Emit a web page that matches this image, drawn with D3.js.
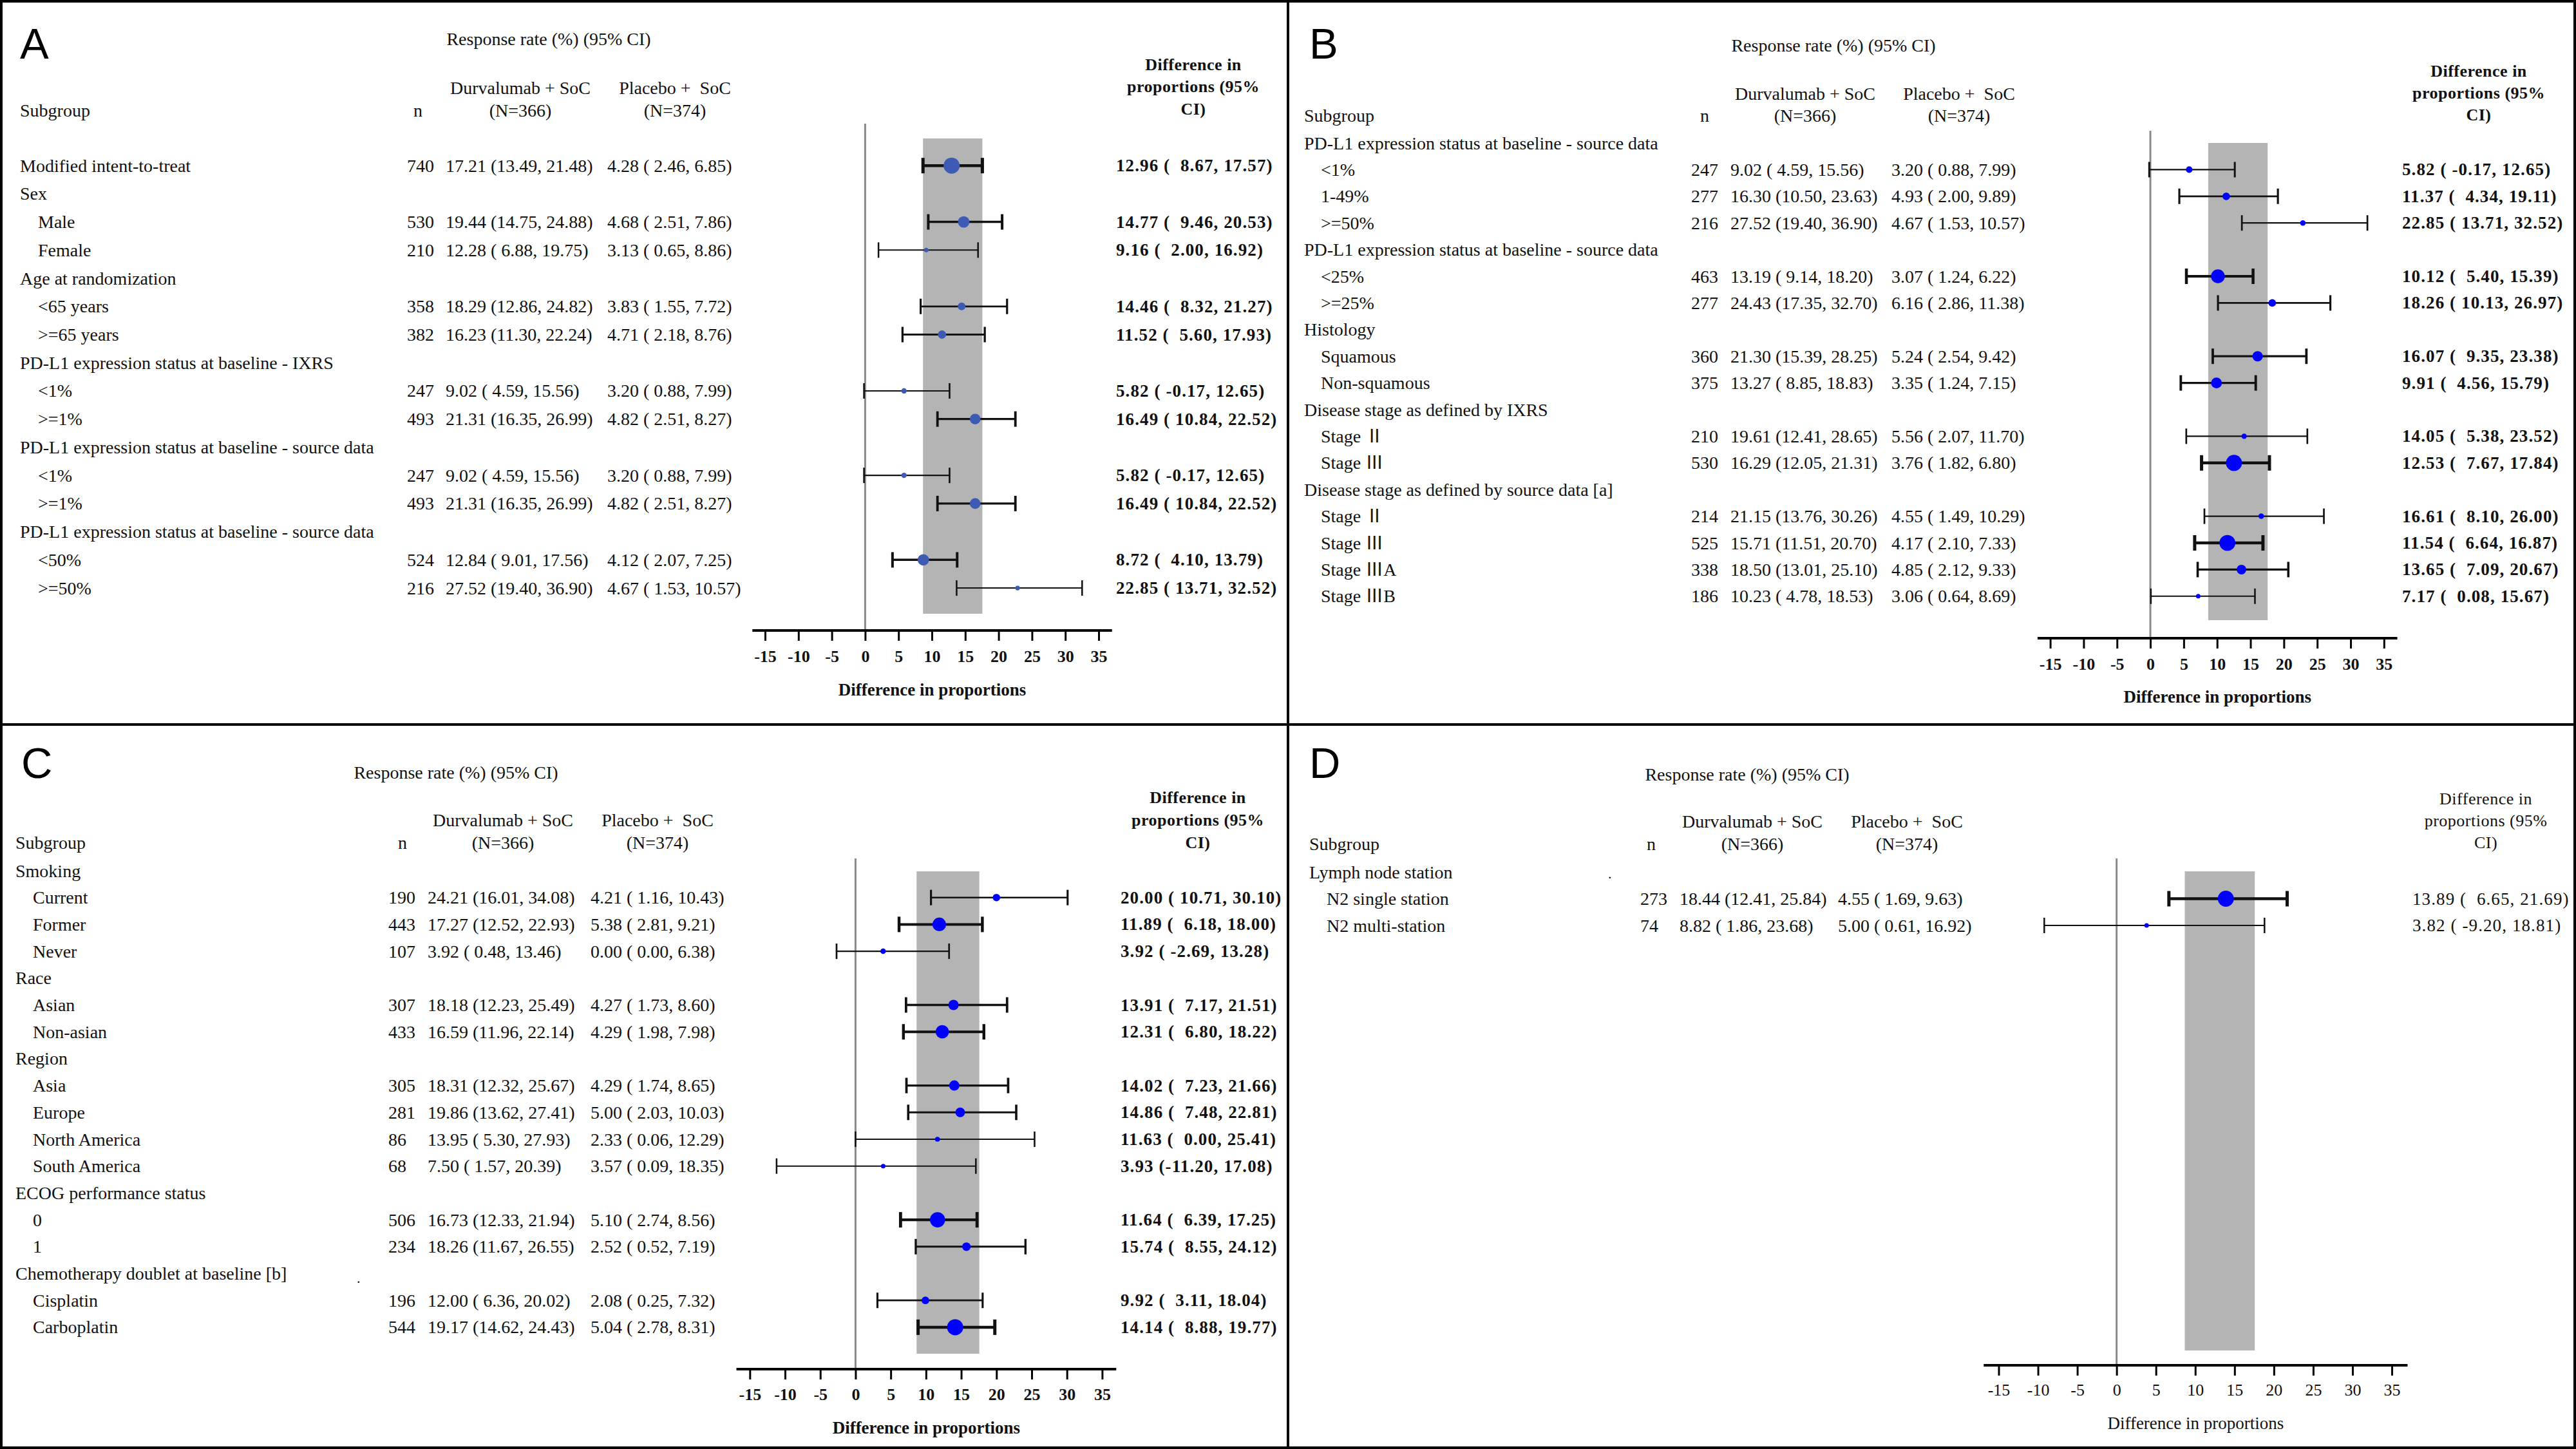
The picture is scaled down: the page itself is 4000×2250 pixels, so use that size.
<!DOCTYPE html>
<html><head><meta charset="utf-8">
<script src="https://cdn.jsdelivr.net/npm/d3@7"></script>
<style>
html,body{margin:0;padding:0;background:#fff;}
svg text{white-space:pre;}
</style></head><body>
<svg id="chart" width="4000" height="2250"></svg>
<script>
// ================= DATA =================
const ticks = [-15, -10, -5, 0, 5, 10, 15, 20, 25, 30, 35];
const refCI = [8.67, 17.57];   // overall (mITT) difference CI, shaded band

// ---- Panel A ----
const labelsA = ["", "Modified intent-to-treat", "Sex", "Male", "Female", "Age at randomization", "<65 years", ">=65 years",
  "PD-L1 expression status at baseline - IXRS", "<1%", ">=1%",
  "PD-L1 expression status at baseline - source data", "<1%", ">=1%",
  "PD-L1 expression status at baseline - source data", "<50%", ">=50%"];
const levelA = [-1, 0, 0, 1, 1, 0, 1, 1, 0, 1, 1, 0, 1, 1, 0, 1, 1];
const nA = [null, 740, null, 530, 210, null, 358, 382, null, 247, 493, null, 247, 493, null, 524, 216];
const durvaA = [null, [17.21, 13.49, 21.48], null, [19.44, 14.75, 24.88], [12.28, 6.88, 19.75], null,
  [18.29, 12.86, 24.82], [16.23, 11.30, 22.24], null, [9.02, 4.59, 15.56], [21.31, 16.35, 26.99], null,
  [9.02, 4.59, 15.56], [21.31, 16.35, 26.99], null, [12.84, 9.01, 17.56], [27.52, 19.40, 36.90]];
const placeboA = [null, [4.28, 2.46, 6.85], null, [4.68, 2.51, 7.86], [3.13, 0.65, 8.86], null,
  [3.83, 1.55, 7.72], [4.71, 2.18, 8.76], null, [3.20, 0.88, 7.99], [4.82, 2.51, 8.27], null,
  [3.20, 0.88, 7.99], [4.82, 2.51, 8.27], null, [4.12, 2.07, 7.25], [4.67, 1.53, 10.57]];
const diffA = [null, [12.96, 8.67, 17.57], null, [14.77, 9.46, 20.53], [9.16, 2.00, 16.92], null,
  [14.46, 8.32, 21.27], [11.52, 5.60, 17.93], null, [5.82, -0.17, 12.65], [16.49, 10.84, 22.52], null,
  [5.82, -0.17, 12.65], [16.49, 10.84, 22.52], null, [8.72, 4.10, 13.79], [22.85, 13.71, 32.52]];

// ---- Panel B ----
const labelsB = ["PD-L1 expression status at baseline - source data", "<1%", "1-49%", ">=50%",
  "PD-L1 expression status at baseline - source data", "<25%", ">=25%", "Histology", "Squamous", "Non-squamous",
  "Disease stage as defined by IXRS", "Stage \u2161", "Stage \u2162",
  "Disease stage as defined by source data [a]", "Stage \u2161", "Stage \u2162", "Stage \u2162A", "Stage \u2162B"];
const levelB = [0, 1, 1, 1, 0, 1, 1, 0, 1, 1, 0, 1, 1, 0, 1, 1, 1, 1];
const nB = [null, 247, 277, 216, null, 463, 277, null, 360, 375, null, 210, 530, null, 214, 525, 338, 186];
const durvaB = [null, [9.02, 4.59, 15.56], [16.30, 10.50, 23.63], [27.52, 19.40, 36.90], null,
  [13.19, 9.14, 18.20], [24.43, 17.35, 32.70], null, [21.30, 15.39, 28.25], [13.27, 8.85, 18.83], null,
  [19.61, 12.41, 28.65], [16.29, 12.05, 21.31], null, [21.15, 13.76, 30.26], [15.71, 11.51, 20.70],
  [18.50, 13.01, 25.10], [10.23, 4.78, 18.53]];
const placeboB = [null, [3.20, 0.88, 7.99], [4.93, 2.00, 9.89], [4.67, 1.53, 10.57], null,
  [3.07, 1.24, 6.22], [6.16, 2.86, 11.38], null, [5.24, 2.54, 9.42], [3.35, 1.24, 7.15], null,
  [5.56, 2.07, 11.70], [3.76, 1.82, 6.80], null, [4.55, 1.49, 10.29], [4.17, 2.10, 7.33],
  [4.85, 2.12, 9.33], [3.06, 0.64, 8.69]];
const diffB = [null, [5.82, -0.17, 12.65], [11.37, 4.34, 19.11], [22.85, 13.71, 32.52], null,
  [10.12, 5.40, 15.39], [18.26, 10.13, 26.97], null, [16.07, 9.35, 23.38], [9.91, 4.56, 15.79], null,
  [14.05, 5.38, 23.52], [12.53, 7.67, 17.84], null, [16.61, 8.10, 26.00], [11.54, 6.64, 16.87],
  [13.65, 7.09, 20.67], [7.17, 0.08, 15.67]];

// ---- Panel C ----
const labelsC = ["Smoking", "Current", "Former", "Never", "Race", "Asian", "Non-asian", "Region", "Asia", "Europe",
  "North America", "South America", "ECOG performance status", "0", "1", "Chemotherapy doublet at baseline [b]",
  "Cisplatin", "Carboplatin"];
const levelC = [0, 1, 1, 1, 0, 1, 1, 0, 1, 1, 1, 1, 0, 1, 1, 0, 1, 1];
const nC = [null, 190, 443, 107, null, 307, 433, null, 305, 281, 86, 68, null, 506, 234, null, 196, 544];
const durvaC = [null, [24.21, 16.01, 34.08], [17.27, 12.52, 22.93], [3.92, 0.48, 13.46], null,
  [18.18, 12.23, 25.49], [16.59, 11.96, 22.14], null, [18.31, 12.32, 25.67], [19.86, 13.62, 27.41],
  [13.95, 5.30, 27.93], [7.50, 1.57, 20.39], null, [16.73, 12.33, 21.94], [18.26, 11.67, 26.55], null,
  [12.00, 6.36, 20.02], [19.17, 14.62, 24.43]];
const placeboC = [null, [4.21, 1.16, 10.43], [5.38, 2.81, 9.21], [0.00, 0.00, 6.38], null,
  [4.27, 1.73, 8.60], [4.29, 1.98, 7.98], null, [4.29, 1.74, 8.65], [5.00, 2.03, 10.03],
  [2.33, 0.06, 12.29], [3.57, 0.09, 18.35], null, [5.10, 2.74, 8.56], [2.52, 0.52, 7.19], null,
  [2.08, 0.25, 7.32], [5.04, 2.78, 8.31]];
const diffC = [null, [20.00, 10.71, 30.10], [11.89, 6.18, 18.00], [3.92, -2.69, 13.28], null,
  [13.91, 7.17, 21.51], [12.31, 6.80, 18.22], null, [14.02, 7.23, 21.66], [14.86, 7.48, 22.81],
  [11.63, 0.00, 25.41], [3.93, -11.20, 17.08], null, [11.64, 6.39, 17.25], [15.74, 8.55, 24.12], null,
  [9.92, 3.11, 18.04], [14.14, 8.88, 19.77]];

// ---- Panel D ----
const labelsD = ["Lymph node station", "N2 single station", "N2 multi-station"];
const levelD = [0, 1, 1];
const nD = [null, 273, 74];
const durvaD = [null, [18.44, 12.41, 25.84], [8.82, 1.86, 23.68]];
const placeboD = [null, [4.55, 1.69, 9.63], [5.00, 0.61, 16.92]];
const diffD = [null, [13.89, 6.65, 21.69], [3.82, -9.20, 18.81]];

// ================= RENDER =================
const SERIF = "'Liberation Serif','Times New Roman',Times,'Noto Sans CJK SC',serif";
const SANS = "'Liberation Sans',Arial,sans-serif";
const svg = d3.select("#chart");
svg.append("rect").attr("width", 4000).attr("height", 2250).attr("fill", "#fff");

function fmt(t, padLo) {
  return t[0].toFixed(2) + " (" + t[1].toFixed(2).padStart(padLo, " ") + ", " + t[2].toFixed(2) + ")";
}

function drawPanel(P, D) {
  const g = svg.append("g");
  const x = d3.scaleLinear().domain([ticks[0], ticks[ticks.length - 1]]).range(P.xr);
  const y = d3.scaleLinear().domain([0, 1]).range([P.y0, P.y0 + P.step]);
  const nVals = D.n.filter(v => v != null);
  const r = d3.scaleLinear().domain(d3.extent(nVals)).range([3.5, 12.5]);
  const sw = d3.scaleLinear().domain(d3.extent(nVals)).range([2, 4.5]);
  const txt = (xx, yy, s, o = {}) => g.append("text").attr("x", xx).attr("y", yy)
    .attr("dominant-baseline", o.baseline || "central")
    .attr("text-anchor", o.anchor || "start")
    .style("font-family", o.family || SERIF).style("font-size", (o.size || 28) + "px")
    .style("font-weight", o.weight || "normal").style("letter-spacing", (o.ls || 0) + "px")
    .attr("fill", o.fill || "#111").text(s);

  // panel letter
  txt(P.letterX, P.letterY, P.letter, {family: SANS, size: 67, baseline: "alphabetic", fill: "#000"});
  // header
  txt(P.respX, P.respY, "Response rate (%) (95% CI)", {anchor: "middle"});
  txt(P.labelX, P.h2, "Subgroup");
  txt(P.nHead, P.h2, "n", {anchor: "middle"});
  txt(P.durvaHead, P.h1, "Durvalumab + SoC", {anchor: "middle"});
  txt(P.durvaHead, P.h2, "(N=366)", {anchor: "middle"});
  txt(P.placHead, P.h1, "Placebo +  SoC", {anchor: "middle"});
  txt(P.placHead, P.h2, "(N=374)", {anchor: "middle"});
  const rw = P.rightWeight;
  ["Difference in", "proportions (95%", "CI)"].forEach((s, k) =>
    txt(P.rightHead, P.rh[k], s, {anchor: "middle", size: 26, weight: rw, ls: 0.5}));
  if (P.dot) txt(P.dot[0], P.dot[1], ".", {size: 22});

  // reference band and zero line
  g.append("rect").attr("x", x(refCI[0])).attr("width", x(refCI[1]) - x(refCI[0]))
    .attr("y", P.bandTop).attr("height", P.bandBot - P.bandTop).attr("fill", "#b4b4b4");
  g.append("line").attr("x1", x(0)).attr("x2", x(0)).attr("y1", P.zeroTop).attr("y2", P.axisY)
    .attr("stroke", "#8a8a8a").attr("stroke-width", 3);

  // table rows
  D.labels.forEach((lab, i) => {
    const yy = y(i);
    if (lab) txt(D.level[i] === 1 ? P.indentX : P.labelX, yy, lab);
    if (D.n[i] != null) {
      txt(P.nX, yy, String(D.n[i]));
      txt(P.durvaX, yy, fmt(D.durva[i], 5));
      txt(P.placX, yy, fmt(D.placebo[i], 5));
      txt(P.rightX, yy, fmt(D.diff[i], 6), {size: 27, weight: rw, ls: 1.1});
    }
  });

  // error bars + markers
  const rows = D.labels.map((l, i) => i).filter(i => D.diff[i] != null);
  const eb = g.append("g").selectAll("g").data(rows).join("g");
  eb.append("line").attr("x1", i => x(D.diff[i][1])).attr("x2", i => x(D.diff[i][2]))
    .attr("y1", i => y(i)).attr("y2", i => y(i)).attr("stroke", "#111").attr("stroke-width", i => sw(D.n[i]));
  [1, 2].forEach(k => eb.append("line").attr("x1", i => x(D.diff[i][k])).attr("x2", i => x(D.diff[i][k]))
    .attr("y1", i => y(i) - 12).attr("y2", i => y(i) + 12).attr("stroke", "#111").attr("stroke-width", i => sw(D.n[i]) + 0.5));
  eb.append("circle").attr("cx", i => x(D.diff[i][0])).attr("cy", i => y(i)).attr("r", i => r(D.n[i]))
    .attr("fill", P.marker);

  // axis
  const axis = d3.axisBottom(x).tickValues(ticks).tickSize(16).tickSizeOuter(0).tickFormat(d => String(d));
  const ag = g.append("g").attr("transform", `translate(0,${P.axisY})`).call(axis);
  ag.select(".domain").remove();
  ag.append("line").attr("x1", x(-16.9)).attr("x2", x(37)).attr("stroke", "#000").attr("stroke-width", 4);
  ag.selectAll(".tick line").attr("stroke", "#000").attr("stroke-width", 3);
  ag.selectAll(".tick text").attr("y", P.tickY - P.axisY).attr("dy", "0.35em").attr("fill", "#111")
    .style("font-family", SERIF).style("font-size", "26px").style("font-weight", rw);
  txt((x(-16.9) + x(37)) / 2, P.titleY, "Difference in proportions", {anchor: "middle", size: 27, weight: rw});
}

drawPanel({letter: "A", letterX: 31, letterY: 91, respX: 852, respY: 60, h1: 136, h2: 171,
  labelX: 31, indentX: 59, nX: 632, nHead: 649, durvaX: 692, durvaHead: 808, placX: 943, placHead: 1048,
  rightX: 1733, rightHead: 1853, rh: [100, 134, 169], rightWeight: "bold",
  y0: 213.4, step: 43.73, xr: [1188, 1706], bandTop: 215, bandBot: 953, zeroTop: 192, axisY: 979,
  tickY: 1019, titleY: 1071, marker: "#3d5ab5"},
  {labels: labelsA, level: levelA, n: nA, durva: durvaA, placebo: placeboA, diff: diffA});

drawPanel({letter: "B", letterX: 2033, letterY: 91, respX: 2847, respY: 70, h1: 145, h2: 179,
  labelX: 2025, indentX: 2051, nX: 2626, nHead: 2647, durvaX: 2687, durvaHead: 2803, placX: 2937, placHead: 3042,
  rightX: 3730, rightHead: 3849, rh: [110, 144, 178], rightWeight: "bold",
  y0: 222, step: 41.4, xr: [3183.6, 3701.8], bandTop: 222, bandBot: 963, zeroTop: 203, axisY: 991,
  tickY: 1031, titleY: 1082, marker: "#0000ff"},
  {labels: labelsB, level: levelB, n: nB, durva: durvaB, placebo: placeboB, diff: diffB});

drawPanel({letter: "C", letterX: 33, letterY: 1208, respX: 708, respY: 1199, h1: 1273, h2: 1308,
  labelX: 24, indentX: 51, nX: 603, nHead: 625, durvaX: 664, durvaHead: 781, placX: 917, placHead: 1021,
  rightX: 1740, rightHead: 1860, rh: [1238, 1273, 1308], rightWeight: "bold", dot: [554, 1984],
  y0: 1352, step: 41.7, xr: [1164.3, 1711.4], bandTop: 1353, bandBot: 2102, zeroTop: 1333, axisY: 2126,
  tickY: 2165, titleY: 2217, marker: "#0000ff"},
  {labels: labelsC, level: levelC, n: nC, durva: durvaC, placebo: placeboC, diff: diffC});

drawPanel({letter: "D", letterX: 2033, letterY: 1208, respX: 2713, respY: 1202, h1: 1275, h2: 1310,
  labelX: 2033, indentX: 2060, nX: 2547, nHead: 2564, durvaX: 2608, durvaHead: 2721, placX: 2854, placHead: 2961,
  rightX: 3746, rightHead: 3860, rh: [1240, 1274, 1308], rightWeight: "normal", dot: [2497, 1356],
  y0: 1354, step: 41.5, xr: [3103.5, 3714], bandTop: 1353, bandBot: 2097, zeroTop: 1333, axisY: 2120,
  tickY: 2158, titleY: 2210, marker: "#0000ff"},
  {labels: labelsD, level: levelD, n: nD, durva: durvaD, placebo: placeboD, diff: diffD});

// frame and panel dividers
svg.append("rect").attr("x", 2).attr("y", 2).attr("width", 3996).attr("height", 2246)
  .attr("fill", "none").attr("stroke", "#000").attr("stroke-width", 4);
svg.append("line").attr("x1", 2000).attr("x2", 2000).attr("y1", 0).attr("y2", 2250).attr("stroke", "#000").attr("stroke-width", 4);
svg.append("line").attr("x1", 0).attr("x2", 4000).attr("y1", 1125).attr("y2", 1125).attr("stroke", "#000").attr("stroke-width", 4);
</script>
</body></html>
